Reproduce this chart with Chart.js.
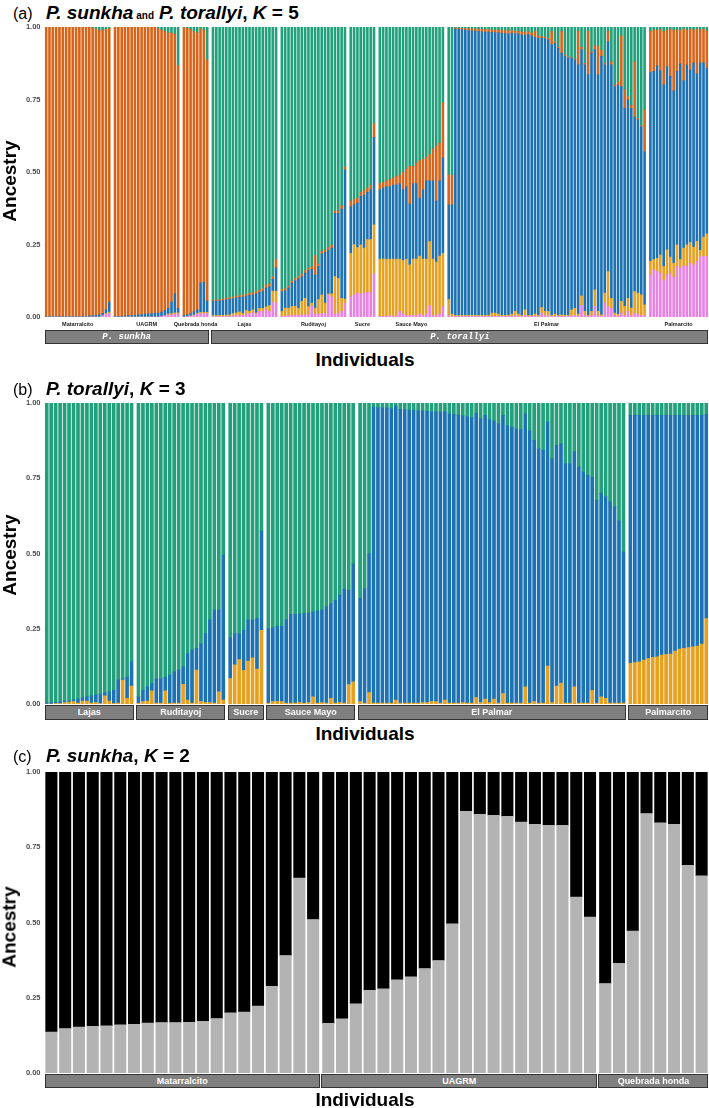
<!DOCTYPE html>
<html><head><meta charset="utf-8">
<script src="https://cdn.jsdelivr.net/npm/chart.js@4.4.0/dist/chart.umd.min.js"></script>
<style>
html,body{margin:0;padding:0;background:#fff;}
#root{position:relative;width:709px;height:1108px;overflow:hidden;font-family:"Liberation Sans",Arial,sans-serif;color:#000;}
canvas{position:absolute;left:0;}
.t{position:absolute;white-space:nowrap;line-height:1;}
.strip{position:absolute;background:#7f7f7f;border:1px solid #333;box-sizing:border-box;color:#fff;font-weight:bold;font-size:9px;display:flex;align-items:center;justify-content:center;overflow:hidden;white-space:nowrap;}
</style></head><body><div id="root"></div>
<script>
// ---------------- DATA ----------------
const yTicks = [0, 0.25, 0.5, 0.75, 1];

// Panel (a): P. sunkha and P. torallyi, K = 5
const aGroups = ["Matarralcito","UAGRM","Quebrada honda","Lajas","Ruditayoj","Sucre","Sauce Mayo","El Palmar","Palmarcito"];
const aSizes  = [20,20,8,20,20,8,20,60,18];
const aSpecies = ["P. sunkha","P. torallyi"];
const aSpeciesGroups = [3,6];
const aPink = [
 0,0,0,0,0,0,0,0,0,0,0,0,0,0,0,0,0,0.005,0.01,0.012,
 0,0,0,0,0,0,0,0,0,0,0,0,0,0,0.003,0.005,0.007,0.008,0.01,0.01,
 0,0.002,0.004,0.006,0.01,0.012,0.012,0.012,
 0.002,0.002,0.002,0.003,0.003,0.003,0.005,0.005,0.005,0.006,0.01,0.012,0.015,0.01,0.02,0.02,0.025,0.02,0.05,0.05,
 0.003,0.004,0.005,0.005,0.006,0.006,0.008,0.008,0.01,0.037,0.01,0.01,0.012,0.012,0.077,0.07,0.01,0.012,0.02,0.048,
 0.07,0.077,0.083,0.08,0.083,0.085,0.085,0.15,
 0.003,0.003,0.003,0.005,0.003,0.005,0.02,0.01,0.005,0.005,0.005,0.005,0.01,0.005,0.01,0.04,0.005,0.005,0.01,0.035,
 0.005,0.003,0.003,0.003,0.003,0.003,0.003,0.003,0.003,0.003,0.003,0.003,0.003,0.003,0.003,0.003,0.003,0.003,0.003,0.003,
 0.005,0.003,0.003,0.005,0.003,0.003,0.003,0.003,0.014,0.005,0.005,0.003,0.003,0.003,0.003,0.003,0.003,0.005,0.005,0.003,
 0.04,0.005,0.003,0.005,0.037,0.005,0.003,0.048,0.037,0.03,0.005,0.003,0.014,0.005,0.02,0.005,0.014,0.01,0.005,0.005,
 0.146,0.163,0.157,0.152,0.126,0.146,0.152,0.138,0.175,0.169,0.177,0.175,0.186,0.18,0.192,0.209,0.209,0.209];
const aYellow = [
 0,0,0,0,0,0,0,0,0,0,0,0,0,0,0,0,0,0,0.003,0.005,
 0,0,0,0,0,0,0,0,0,0,0,0,0,0,0,0,0.003,0.004,0.005,0.005,
 0,0,0,0.002,0.004,0.004,0.004,0.004,
 0.003,0.003,0.004,0.003,0.004,0.005,0.007,0.01,0.013,0.006,0.012,0.008,0.01,0.005,0.01,0.01,0.01,0.02,0.04,0.04,
 0.017,0.027,0.026,0.031,0.031,0.024,0.046,0.057,0.026,0.011,0.021,0.05,0.065,0.036,0.003,0.01,0.13,0.122,0.045,0.014,
 0.15,0.173,0.157,0.169,0.155,0.182,0.182,0.168,
 0.197,0.197,0.197,0.195,0.197,0.195,0.18,0.185,0.195,0.175,0.195,0.195,0.2,0.195,0.19,0.22,0.195,0.185,0.2,0.185,
 0.055,0.007,0.003,0.003,0.003,0.003,0.003,0.003,0.003,0.003,0.003,0.003,0.003,0.011,0.011,0.007,0.003,0.003,0.003,0.007,
 0.015,0.007,0.003,0.02,0.003,0.003,0.007,0.003,0.019,0.015,0.015,0.003,0.007,0.003,0.005,0.003,0.003,0.02,0.025,0.007,
 0.033,0.015,0.003,0.015,0.057,0.015,0.005,0.035,0.12,0.035,0.009,0.007,0.04,0.032,0.045,0.026,0.074,0.073,0.072,0.037,
 0.046,0.035,0.046,0.063,0.049,0.086,0.055,0.048,0.074,0.029,0.061,0.074,0.071,0.061,0.069,0.021,0.067,0.078];
const aBlue = [
 0.003,0.003,0.003,0.003,0.003,0.003,0.003,0.003,0.003,0.003,0.003,0.003,0.003,0.004,0.005,0.006,0.008,0.008,0.012,0.035,
 0.003,0.003,0.003,0.004,0.005,0.005,0.006,0.008,0.009,0.01,0.011,0.012,0.013,0.014,0.014,0.018,0.02,0.04,0.065,0.015,
 0.005,0.006,0.008,0.01,0.011,0.101,0.104,0.039,
 0.049,0.05,0.05,0.052,0.053,0.054,0.052,0.051,0.05,0.058,0.05,0.055,0.052,0.065,0.055,0.06,0.065,0.065,0.04,0.08,
 0.068,0.06,0.069,0.081,0.089,0.102,0.086,0.087,0.124,0.117,0.114,0.115,0.141,0.175,0.15,0.158,0.218,0.224,0.307,0.446,
 0.16,0.137,0.153,0.167,0.182,0.163,0.173,0.302,
 0.24,0.245,0.25,0.25,0.255,0.255,0.26,0.245,0.25,0.21,0.26,0.26,0.2,0.24,0.27,0.21,0.27,0.21,0.26,0.33,
 0.327,0.377,0.987,0.986,0.985,0.984,0.982,0.981,0.98,0.979,0.978,0.977,0.977,0.968,0.967,0.97,0.973,0.972,0.97,0.969,
 0.958,0.967,0.967,0.947,0.969,0.964,0.955,0.956,0.929,0.94,0.936,0.934,0.935,0.921,0.902,0.894,0.889,0.868,0.857,0.86,
 0.849,0.85,0.83,0.89,0.828,0.816,0.891,0.787,0.793,0.805,0.781,0.79,0.741,0.683,0.684,0.689,0.602,0.597,0.58,0.529,
 0.651,0.649,0.663,0.635,0.626,0.632,0.623,0.594,0.598,0.675,0.577,0.621,0.595,0.635,0.578,0.648,0.60,0.571];
const aOrange = [
 0.997,0.997,0.997,0.997,0.997,0.997,0.997,0.997,0.997,0.997,0.997,0.997,0.997,0.996,0.991,0.988,0.982,0.975,0.967,0.944,
 0.997,0.997,0.997,0.996,0.995,0.995,0.994,0.992,0.991,0.99,0.989,0.988,0.987,0.981,0.973,0.962,0.95,0.928,0.895,0.838,
 0.995,0.988,0.98,0.967,0.955,0.878,0.87,0.832,
 0.004,0.004,0.004,0.004,0.005,0.005,0.005,0.006,0.006,0.006,0.006,0.007,0.007,0.008,0.008,0.008,0.01,0.01,0.01,0.028,
 0.007,0.007,0.007,0.007,0.007,0.008,0.008,0.008,0.008,0.008,0.067,0.008,0.008,0.008,0.01,0.01,0.008,0.008,0.012,0.009,
 0.02,0.018,0.017,0.014,0.015,0.015,0.015,0.047,
 0.02,0.02,0.02,0.025,0.025,0.03,0.03,0.06,0.06,0.13,0.06,0.07,0.13,0.105,0.08,0.09,0.11,0.19,0.13,0.19,
 0.103,0.103,0.004,0.004,0.005,0.005,0.007,0.007,0.007,0.008,0.008,0.009,0.008,0.008,0.009,0.01,0.01,0.01,0.011,0.009,
 0.008,0.008,0.011,0.011,0.009,0.01,0.02,0.008,0.006,0.005,0.004,0.045,0.005,0.003,0.075,0.005,0.003,0.002,0.003,0.115,
 0.008,0.005,0.149,0.005,0.013,0.099,0.021,0.005,0.035,0.01,0.005,0.01,0.175,0.065,0.011,0.01,0.19,0.005,0.003,0.144,
 0.142,0.143,0.124,0.142,0.184,0.126,0.163,0.21,0.143,0.115,0.178,0.12,0.141,0.114,0.154,0.112,0.117,0.127];
const aGreen = [
 0,0,0,0,0,0,0,0,0,0,0,0,0,0,0.004,0.006,0.01,0.012,0.008,0.004,
 0,0,0,0,0,0,0,0,0,0,0,0,0,0.005,0.01,0.015,0.02,0.02,0.025,0.132,
 0,0.004,0.008,0.015,0.02,0.005,0.01,0.113,
 0.942,0.941,0.94,0.938,0.935,0.933,0.931,0.928,0.926,0.924,0.922,0.918,0.916,0.912,0.907,0.902,0.89,0.885,0.86,0.802,
 0.905,0.902,0.893,0.876,0.867,0.86,0.852,0.84,0.832,0.827,0.788,0.817,0.774,0.769,0.76,0.752,0.634,0.634,0.616,0.483,
 0.60,0.595,0.59,0.57,0.565,0.555,0.545,0.333,
 0.54,0.535,0.53,0.525,0.52,0.515,0.51,0.50,0.49,0.48,0.48,0.47,0.46,0.455,0.45,0.44,0.42,0.41,0.40,0.26,
 0.51,0.51,0.003,0.004,0.004,0.005,0.005,0.006,0.007,0.007,0.008,0.008,0.009,0.01,0.01,0.01,0.011,0.012,0.013,0.012,
 0.014,0.015,0.016,0.017,0.016,0.02,0.015,0.03,0.032,0.035,0.04,0.015,0.05,0.07,0.015,0.095,0.102,0.105,0.11,0.015,
 0.07,0.125,0.015,0.085,0.065,0.065,0.08,0.125,0.015,0.12,0.20,0.19,0.03,0.215,0.24,0.27,0.12,0.315,0.34,0.285,
 0.015,0.01,0.01,0.008,0.015,0.01,0.007,0.01,0.01,0.012,0.007,0.01,0.007,0.01,0.007,0.01,0.007,0.015];

// Panel (b): P. torallyi, K = 3
const bGroups = ["Lajas","Ruditayoj","Sucre","Sauce Mayo","El Palmar","Palmarcito"];
const bSizes  = [20,20,8,20,60,18];
const bYellow = [
 0,0,0.002,0.002,0.005,0.007,0.008,0.003,0.01,0.01,0.003,0.005,0.002,0.027,0.01,0.002,0.003,0.08,0.019,0.06,
 0.003,0.008,0.01,0.044,0.003,0.003,0.044,0.002,0.003,0.003,0.066,0.013,0.003,0.113,0.008,0.005,0.005,0.003,0.041,0.013,
 0.085,0.13,0.148,0.111,0.143,0.154,0.116,0.245,
 0.003,0.008,0.008,0.008,0.003,0.003,0.003,0.005,0.003,0.005,0.024,0.003,0.005,0.003,0.019,0.003,0.005,0.003,0.065,0.074,
 0.008,0.003,0.038,0.003,0.003,0.003,0.003,0.003,0.013,0.003,0.003,0.003,0.003,0.003,0.005,0.005,0.008,0.008,0.003,0.013,
 0.003,0.003,0.003,0.005,0.003,0.003,0.022,0.005,0.017,0.005,0.017,0.003,0.035,0.003,0.003,0.003,0.003,0.057,0.003,0.008,
 0.003,0.003,0.126,0.005,0.060,0.070,0.003,0.003,0.057,0.003,0.003,0.003,0.046,0.003,0.024,0.019,0.003,0.003,0.003,0.003,
 0.135,0.138,0.140,0.146,0.151,0.155,0.157,0.163,0.165,0.166,0.176,0.183,0.185,0.188,0.19,0.193,0.199,0.284];
const bBlue = [
 0.004,0.005,0.004,0.006,0.005,0.005,0.006,0.014,0.011,0.014,0.024,0.025,0.031,0.01,0.031,0.044,0.077,0.005,0.071,0.08,
 0.021,0.038,0.047,0.024,0.082,0.082,0.046,0.094,0.104,0.11,0.058,0.155,0.176,0.072,0.192,0.229,0.274,0.309,0.271,0.482,
 0.136,0.104,0.086,0.134,0.136,0.125,0.169,0.33,
 0.248,0.246,0.25,0.25,0.277,0.295,0.295,0.295,0.297,0.297,0.282,0.306,0.307,0.32,0.315,0.342,0.357,0.379,0.313,0.391,
 0.343,0.381,0.462,0.984,0.982,0.982,0.98,0.978,0.977,0.976,0.975,0.974,0.973,0.972,0.969,0.968,0.964,0.963,0.967,0.959,
 0.962,0.96,0.957,0.953,0.952,0.949,0.944,0.943,0.942,0.94,0.923,0.929,0.924,0.922,0.917,0.912,0.909,0.908,0.906,0.868,
 0.846,0.84,0.811,0.81,0.80,0.795,0.796,0.796,0.781,0.785,0.768,0.757,0.708,0.674,0.676,0.67,0.669,0.652,0.607,0.502,
 0.824,0.821,0.819,0.813,0.808,0.804,0.802,0.796,0.794,0.793,0.783,0.776,0.774,0.771,0.769,0.766,0.76,0.679];
const bGreen = [
 0.996,0.995,0.994,0.992,0.99,0.988,0.986,0.983,0.979,0.976,0.973,0.97,0.967,0.963,0.959,0.954,0.92,0.915,0.91,0.86,
 0.976,0.954,0.943,0.932,0.915,0.915,0.91,0.904,0.893,0.887,0.876,0.832,0.821,0.815,0.8,0.766,0.721,0.688,0.688,0.505,
 0.779,0.766,0.766,0.755,0.721,0.721,0.715,0.425,
 0.749,0.746,0.742,0.742,0.72,0.702,0.702,0.70,0.70,0.698,0.694,0.691,0.688,0.677,0.666,0.655,0.638,0.618,0.622,0.535,
 0.649,0.616,0.50,0.013,0.015,0.015,0.017,0.019,0.01,0.021,0.022,0.023,0.024,0.025,0.026,0.027,0.028,0.029,0.03,0.028,
 0.035,0.037,0.04,0.042,0.045,0.048,0.034,0.052,0.041,0.055,0.06,0.068,0.041,0.075,0.08,0.085,0.088,0.035,0.091,0.124,
 0.151,0.157,0.063,0.185,0.14,0.135,0.201,0.201,0.162,0.212,0.229,0.24,0.246,0.323,0.30,0.311,0.328,0.345,0.39,0.495,
 0.041,0.041,0.041,0.041,0.041,0.041,0.041,0.041,0.041,0.041,0.041,0.041,0.041,0.041,0.041,0.041,0.041,0.037];

// Panel (c): P. sunkha, K = 2
const cGroups = ["Matarralcito","UAGRM","Quebrada honda"];
const cSizes  = [20,20,8];
const cGrey = [
 0.136,0.148,0.153,0.155,0.157,0.160,0.162,0.166,0.168,0.168,0.169,0.172,0.181,0.200,0.203,0.223,0.288,0.390,0.648,0.510,
 0.165,0.180,0.230,0.275,0.280,0.310,0.320,0.347,0.374,0.496,0.870,0.860,0.856,0.853,0.834,0.826,0.823,0.823,0.585,0.518,
 0.297,0.365,0.472,0.862,0.831,0.826,0.690,0.655];
const cBlack = [
 0.864,0.852,0.847,0.845,0.843,0.840,0.838,0.834,0.832,0.832,0.831,0.828,0.819,0.800,0.797,0.777,0.712,0.610,0.352,0.490,
 0.835,0.820,0.770,0.725,0.720,0.690,0.680,0.653,0.626,0.504,0.130,0.140,0.144,0.147,0.166,0.174,0.177,0.177,0.415,0.482,
 0.703,0.635,0.528,0.138,0.169,0.174,0.310,0.345];

// ---------------- STYLE ----------------
const COL = {orange:"#D76419", green:"#22A07C", blue:"#1C72B3", yellow:"#E5A11F", pink:"#E882E3", black:"#000000", grey:"#B3B3B3"};
Chart.defaults.font.family = "'Liberation Sans', Arial, sans-serif";
const root = document.getElementById('root');

function addDiv(html, cls, style){
  const d = document.createElement('div');
  d.className = cls; d.innerHTML = html;
  Object.assign(d.style, style);
  root.appendChild(d); return d;
}

function buildPanel(p){
  const positions = []; const ranges = []; let k = 0;
  p.sizes.forEach((n, gi) => {
    const start = k + gi * p.gap;
    ranges.push([start, start + n - 1]);
    for (let j = 0; j < n; j++) positions.push(start + j);
    k += n;
  });
  const maxX = positions[positions.length - 1] + 0.5;
  const PAD = 10;
  const H = p.bottom - p.top + 2 * PAD;
  const cv = document.createElement('canvas');
  cv.width = 709; cv.height = H;
  cv.style.width = '709px'; cv.style.height = H + 'px';
  cv.style.top = (p.top - PAD) + 'px';
  root.appendChild(cv);
  const centers = ranges.map(r => (r[0] + r[1]) / 2);
  const chart = new Chart(cv, {
    type: 'bar',
    data: { datasets: p.series.map(s => ({
      data: s.values.map((v, i) => ({x: positions[i], y: v})),
      backgroundColor: s.color, borderWidth: 0, inflateAmount: 0.25,
      barPercentage: p.barPct, categoryPercentage: 1, clip: 0
    }))},
    options: {
      responsive: false, animation: false, devicePixelRatio: 1, events: [],
      layout: {padding: {top: PAD, bottom: PAD, left: 0, right: 0.5}},
      plugins: {legend: {display: false}, tooltip: {enabled: false}},
      scales: {
        x: {type: 'linear', min: -0.5, max: maxX, offset: false, display: false, stacked: true,
            afterBuildTicks: s => { s.ticks = centers.map(v => ({value: v})); }},
        y: {type: 'linear', min: 0, max: 1, stacked: true,
            grid: {display: false, drawTicks: false}, border: {display: false},
            afterBuildTicks: s => { s.ticks = yTicks.map(v => ({value: v})); },
            afterFit: s => { s.width = 44.5; },
            ticks: {padding: 4, color: '#4d4d4d', font: {size: 7.5, weight: 'bold'},
                    callback: v => Number(v).toFixed(2)}}
      }
    }
  });
  const xs = chart.scales.x;
  const px = v => xs.getPixelForValue(v);
  return {chart, ranges, px};
}

function strip(text, x0, x1, y0, y1, extra){
  addDiv(text, 'strip', Object.assign({left: x0 + 'px', top: y0 + 'px', width: (x1 - x0) + 'px', height: (y1 - y0) + 'px'}, extra || {}));
}

function panelTitle(letter, html, baseline){
  addDiv('(' + letter + ')', 't', {left: '13px', top: (baseline - 13.5) + 'px', fontSize: '16px'});
  addDiv(html, 't', {left: '46px', top: (baseline - 16.1) + 'px', fontSize: '19px', fontWeight: 'bold'});
}
function yTitle(cy){
  addDiv('Ancestry', 't', {left: '8.5px', top: cy + 'px', fontSize: '19px', fontWeight: 'bold', transform: 'translate(-50%,-50%) rotate(-90deg)'});
}
function xTitle(baseline){
  addDiv('Individuals', 't', {left: '365px', top: (baseline - 16.1) + 'px', fontSize: '19px', fontWeight: 'bold', transform: 'translateX(-50%)'});
}

// ---------------- PANEL A ----------------
panelTitle('a', '<i>P. sunkha</i><span style="font-size:10px;margin:0 5px 0 3px">and</span><i>P. torallyi</i>, <i>K</i> = 5', 19);
const A = buildPanel({top: 27, bottom: 317, sizes: aSizes, gap: 0.75, barPct: 0.64, series: [
  {values: aPink, color: COL.pink}, {values: aYellow, color: COL.yellow}, {values: aBlue, color: COL.blue},
  {values: aOrange, color: COL.orange}, {values: aGreen, color: COL.green}]});
aGroups.forEach((g, i) => {
  const r = A.ranges[i];
  const cx = (A.px(r[0] - 0.5) + A.px(r[1] + 0.5)) / 2;
  addDiv(g, 't', {left: cx + 'px', top: (327 - 4.7) + 'px', fontSize: '5.5px', fontWeight: 'bold', color: '#1a1a1a', transform: 'translateX(-50%)'});
});
let gi0 = 0;
aSpecies.forEach((s, i) => {
  const first = A.ranges[gi0], last = A.ranges[gi0 + aSpeciesGroups[i] - 1];
  strip('<span style="font-family:\'Liberation Mono\',monospace;font-style:italic;font-weight:bold;">' + s + '</span>',
        A.px(first[0] - 0.5), A.px(last[1] + 0.5), 330, 343.5);
  gi0 += aSpeciesGroups[i];
});
yTitle(181);
xTitle(366);

// ---------------- PANEL B ----------------
panelTitle('b', '<i>P. torallyi</i>, <i>K</i> = 3', 395);
const B = buildPanel({top: 403, bottom: 704, sizes: bSizes, gap: 0.55, barPct: 0.71, series: [
  {values: bYellow, color: COL.yellow}, {values: bBlue, color: COL.blue}, {values: bGreen, color: COL.green}]});
bGroups.forEach((g, i) => {
  const r = B.ranges[i];
  strip(g, B.px(r[0] - 0.5), B.px(r[1] + 0.5), 705, 719.5);
});
yTitle(555);
xTitle(740);

// ---------------- PANEL C ----------------
panelTitle('c', '<i>P. sunkha</i>, <i>K</i> = 2', 762);
const C = buildPanel({top: 772, bottom: 1073, sizes: cSizes, gap: 0.1, barPct: 0.84, series: [
  {values: cGrey, color: COL.grey}, {values: cBlack, color: COL.black}]});
cGroups.forEach((g, i) => {
  const r = C.ranges[i];
  strip(g, C.px(r[0] - 0.5), C.px(r[1] + 0.5), 1073.5, 1088);
});
yTitle(927);
xTitle(1106);
</script>
</body></html>
